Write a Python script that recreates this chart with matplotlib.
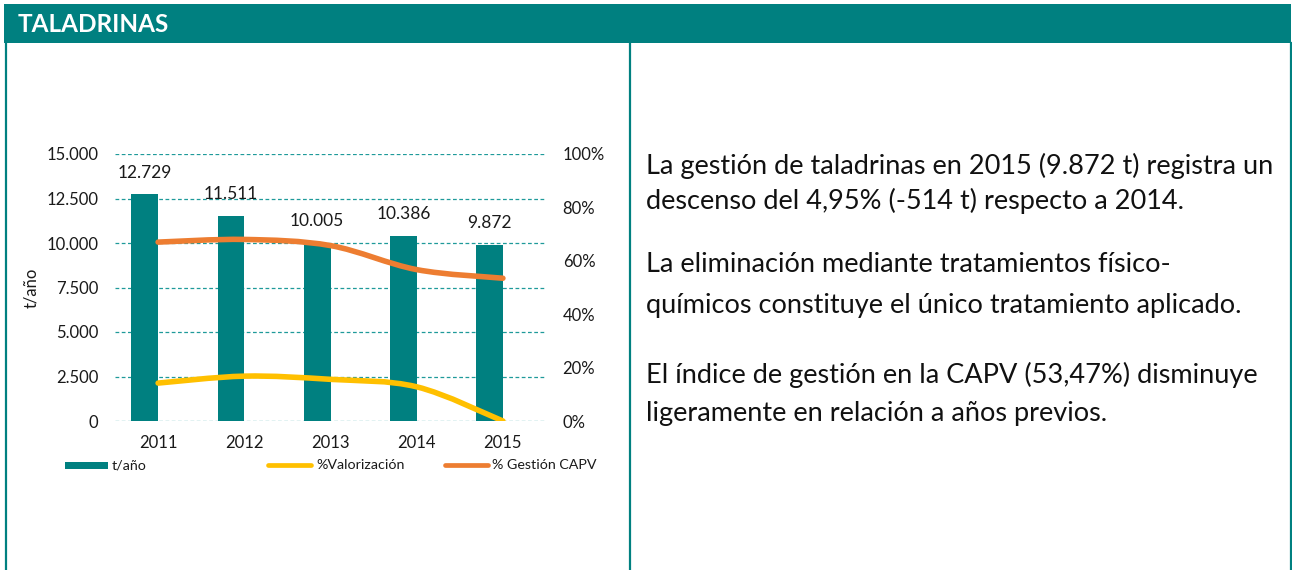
import matplotlib
matplotlib.use("Agg")
import matplotlib.pyplot as plt
from matplotlib.path import Path
from matplotlib.patches import PathPatch, Rectangle
from matplotlib.lines import Line2D
from matplotlib.ticker import FuncFormatter, FixedLocator
import numpy as np

plt.rcParams['font.family'] = ['Lato', 'DejaVu Sans']

# ---------------- data ----------------
years = ['2011', '2012', '2013', '2014', '2015']
tonnes = [12729, 11511, 10005, 10386, 9872]
tonne_labels = ['12.729', '11.511', '10.005', '10.386', '9.872']
pct_valorizacion = [0.142, 0.168, 0.156, 0.128, 0.0]
pct_gestion = [0.670, 0.680, 0.657, 0.567, 0.5347]
left_ticks = [0, 2500, 5000, 7500, 10000, 12500, 15000]
right_ticks = [0, 0.2, 0.4, 0.6, 0.8, 1.0]
legend_labels = ['t/año', '%Valorización', '% Gestión CAPV']
title = 'TALADRINAS'
paragraphs = [
    ['La gestión de taladrinas en 2015 (9.872 t) registra un',
     'descenso del 4,95% (-514 t) respecto a 2014.'],
    ['La eliminación mediante tratamientos físico-',
     'químicos constituye el único tratamiento aplicado.'],
    ['El índice de gestión en la CAPV (53,47%) disminuye',
     'ligeramente en relación a años previos.'],
]

TEAL = '#008080'
ORANGE = '#ED7D31'
YELLOW = '#FFC000'
GRID = '#1f9a9a'

W, H = 1292, 570
fig = plt.figure(figsize=(W / 100, H / 100), dpi=100)

def fx(px):
    return px / W

def fy(py):
    return 1 - py / H

# ---------------- frame ----------------
fig.add_artist(Rectangle((fx(4), fy(43)), fx(1291) - fx(4), fy(4) - fy(43),
                         transform=fig.transFigure, facecolor=TEAL, edgecolor='none'))
for xb in (6, 630, 1290.5):
    fig.add_artist(Line2D([fx(xb), fx(xb)], [fy(43), fy(570)], transform=fig.transFigure,
                          color=TEAL, lw=1.6))
t_title = fig.text(fx(18), fy(24), title, color='white', fontweight='bold',
                   fontsize=14, va='center', ha='left')

# ---------------- chart ----------------
x0, x1, ytop, ybot = 115, 546, 154, 421
ax = fig.add_axes([fx(x0), fy(ybot), fx(x1) - fx(x0), fy(ytop) - fy(ybot)])
ax2 = ax.twinx()

xpos = np.arange(len(years))
bar_w = 0.31
bars = ax.bar(xpos - bar_w / 2, tonnes, width=bar_w, color=TEAL, zorder=2)
ax.set_xlim(-0.5, len(years) - 0.5)
ax.set_ylim(0, 15000)
ax.yaxis.set_major_locator(FixedLocator(left_ticks))
ax.yaxis.set_major_formatter(FuncFormatter(lambda v, p: f"{int(v):,}".replace(',', '.')))
ax.grid(axis='y', color=GRID, linestyle=(0, (3, 2)), lw=0.9, zorder=0)
ax.set_axisbelow(True)
ax.set_xticks(xpos)
ax.set_xticklabels(years)
ax.tick_params(axis='x', length=0, pad=10, labelsize=12, labelcolor='#1a1a1a')
ax.tick_params(axis='y', length=0, pad=12, labelsize=12, labelcolor='#1a1a1a')
for s in ax.spines.values():
    s.set_visible(False)
for s in ax2.spines.values():
    s.set_visible(False)
ax.set_ylabel('t/año', fontsize=12, labelpad=5, color='#1a1a1a')

for xi, v, lab in zip(xpos, tonnes, tonne_labels):
    ax.annotate(lab, (xi - bar_w / 2, v), xytext=(0, 10), textcoords='offset points',
                ha='center', va='bottom', fontsize=12.5, color='#1a1a1a')

ax2.set_ylim(0, 1)
ax2.yaxis.set_major_locator(FixedLocator(right_ticks))
ax2.yaxis.set_major_formatter(FuncFormatter(lambda v, p: f"{int(round(v * 100))}%"))
ax2.tick_params(axis='y', length=0, pad=12, labelsize=12, labelcolor='#1a1a1a')

def smooth_path(xs, ys):
    pts = np.column_stack([xs, ys]).astype(float)
    n = len(pts)
    verts = [tuple(pts[0])]
    codes = [Path.MOVETO]
    for i in range(n - 1):
        p0 = pts[i - 1] if i > 0 else pts[i]
        p1 = pts[i]
        p2 = pts[i + 1]
        p3 = pts[i + 2] if i + 2 < n else pts[i + 1]
        c1 = p1 + (p2 - p0) / 6
        c2 = p2 - (p3 - p1) / 6
        verts += [tuple(c1), tuple(c2), tuple(p2)]
        codes += [Path.CURVE4] * 3
    return Path(verts, codes)

for vals, col in ((pct_valorizacion, YELLOW), (pct_gestion, ORANGE)):
    patch = PathPatch(smooth_path(xpos, vals), facecolor='none', edgecolor=col,
                      lw=4.0, capstyle='round', joinstyle='round', zorder=3)
    ax2.add_patch(patch)

# ---------------- legend (manual) ----------------
leg_y = 465
fig.add_artist(Rectangle((fx(65), fy(468.5)), fx(108) - fx(65), fy(461.5) - fy(468.5),
                         transform=fig.transFigure, facecolor=TEAL, edgecolor='none'))
fig.add_artist(Line2D([fx(268), fx(311)], [fy(leg_y), fy(leg_y)], transform=fig.transFigure,
                      color=YELLOW, lw=3.4, solid_capstyle='round'))
fig.add_artist(Line2D([fx(445), fx(488)], [fy(leg_y), fy(leg_y)], transform=fig.transFigure,
                      color=ORANGE, lw=3.4, solid_capstyle='round'))
for xt, lab in zip((112, 316, 492), legend_labels):
    fig.text(fx(xt), fy(leg_y), lab, fontsize=10.3, va='center', ha='left', color='#1a1a1a')

# ---------------- right-hand text ----------------
fig.canvas.draw()
r = fig.canvas.get_renderer()
w = t_title.get_window_extent(r).width
t_title.set_fontsize(14 * 152 / w)

probe = fig.text(0, 0, paragraphs[0][0], fontsize=18)
w = probe.get_window_extent(r).width
fs = 18 * 626 / w
probe.remove()

line_y = [[166, 201], [265, 306], [375, 413]]
for para, ys in zip(paragraphs, line_y):
    for line, yy in zip(para, ys):
        fig.text(fx(646), fy(yy), line, fontsize=fs, va='center', ha='left', color='#111111')

fig.savefig('out.png', dpi=100)
